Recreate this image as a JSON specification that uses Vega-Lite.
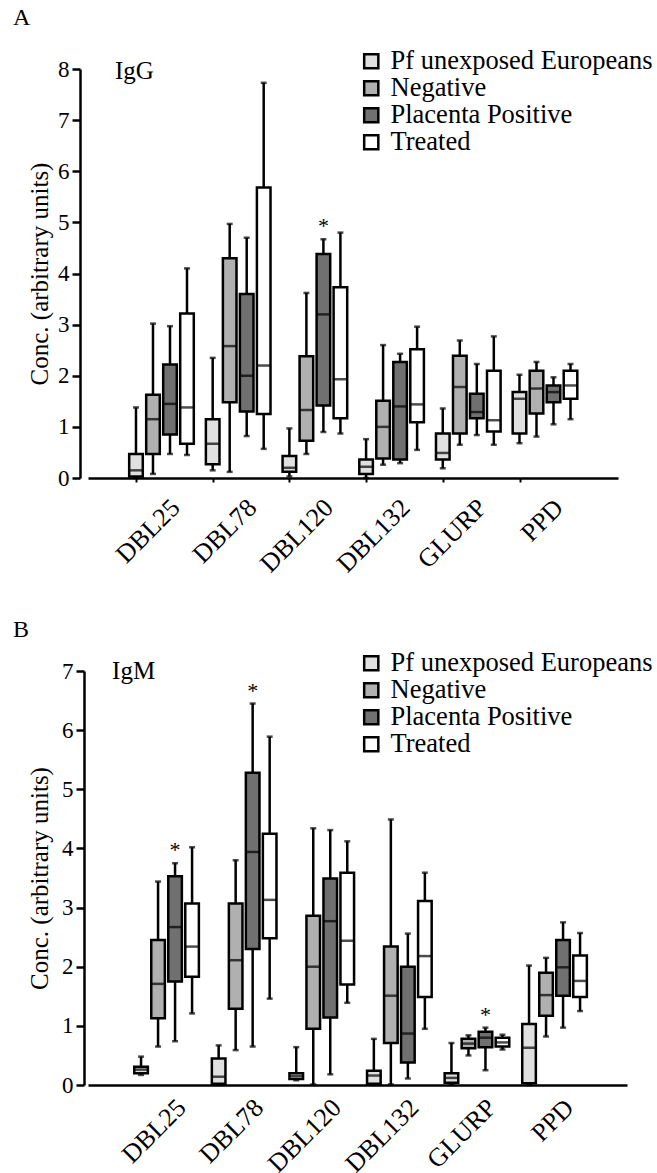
{
  "$schema": "https://vega.github.io/schema/vega-lite/v6.json",
  "padding": {"left": 13, "top": 6, "right": 0, "bottom": 0},
  "bounds": "flush",
  "spacing": 193,
  "resolve": {"scale": {"fill": "independent"}, "legend": {"fill": "independent"}},
  "config": {
    "view": {"stroke": null},
    "font": "Liberation Serif",
    "axis": {"domainColor": "black", "domainWidth": 2.5, "tickColor": "black", "tickWidth": 2.5, "labelColor": "black", "titleColor": "black", "labelFont": "Liberation Serif", "titleFont": "Liberation Serif", "titleFontWeight": "normal", "grid": false, "labelFontSize": 23, "titleFontSize": 25}
  },
  "datasets": {
    "igg": [
      {"antigen": "DBL25", "group": "Pf unexposed Europeans", "min": 0.0, "q1": 0.03, "median": 0.15, "q3": 0.47, "max": 1.38},
      {"antigen": "DBL25", "group": "Negative", "min": 0.08, "q1": 0.47, "median": 1.15, "q3": 1.63, "max": 3.02},
      {"antigen": "DBL25", "group": "Placenta Positive", "min": 0.47, "q1": 0.85, "median": 1.45, "q3": 2.22, "max": 2.97},
      {"antigen": "DBL25", "group": "Treated", "min": 0.45, "q1": 0.67, "median": 1.38, "q3": 3.22, "max": 4.1},
      {"antigen": "DBL78", "group": "Pf unexposed Europeans", "min": 0.15, "q1": 0.27, "median": 0.67, "q3": 1.15, "max": 2.35},
      {"antigen": "DBL78", "group": "Negative", "min": 0.12, "q1": 1.48, "median": 2.58, "q3": 4.3, "max": 4.97},
      {"antigen": "DBL78", "group": "Placenta Positive", "min": 0.82, "q1": 1.3, "median": 2.0, "q3": 3.6, "max": 4.7},
      {"antigen": "DBL78", "group": "Treated", "min": 0.57, "q1": 1.25, "median": 2.2, "q3": 5.68, "max": 7.73},
      {"antigen": "DBL120", "group": "Pf unexposed Europeans", "min": 0.03, "q1": 0.12, "median": 0.2, "q3": 0.43, "max": 0.97},
      {"antigen": "DBL120", "group": "Negative", "min": 0.47, "q1": 0.73, "median": 1.33, "q3": 2.38, "max": 3.62},
      {"antigen": "DBL120", "group": "Placenta Positive", "min": 0.9, "q1": 1.42, "median": 3.2, "q3": 4.38, "max": 4.67, "sig": "*"},
      {"antigen": "DBL120", "group": "Treated", "min": 0.87, "q1": 1.17, "median": 1.93, "q3": 3.73, "max": 4.8},
      {"antigen": "DBL132", "group": "Pf unexposed Europeans", "min": 0.0, "q1": 0.08, "median": 0.22, "q3": 0.36, "max": 0.76},
      {"antigen": "DBL132", "group": "Negative", "min": 0.26, "q1": 0.38, "median": 1.0, "q3": 1.51, "max": 2.6},
      {"antigen": "DBL132", "group": "Placenta Positive", "min": 0.29, "q1": 0.36, "median": 1.4, "q3": 2.27, "max": 2.43},
      {"antigen": "DBL132", "group": "Treated", "min": 0.55, "q1": 1.09, "median": 1.44, "q3": 2.52, "max": 2.96},
      {"antigen": "GLURP", "group": "Pf unexposed Europeans", "min": 0.19, "q1": 0.36, "median": 0.49, "q3": 0.87, "max": 1.36},
      {"antigen": "GLURP", "group": "Negative", "min": 0.65, "q1": 0.87, "median": 1.78, "q3": 2.39, "max": 2.69},
      {"antigen": "GLURP", "group": "Placenta Positive", "min": 0.84, "q1": 1.17, "median": 1.29, "q3": 1.65, "max": 2.23},
      {"antigen": "GLURP", "group": "Treated", "min": 0.65, "q1": 0.91, "median": 1.13, "q3": 2.1, "max": 2.77},
      {"antigen": "PPD", "group": "Pf unexposed Europeans", "min": 0.68, "q1": 0.87, "median": 1.55, "q3": 1.68, "max": 2.02},
      {"antigen": "PPD", "group": "Negative", "min": 0.81, "q1": 1.26, "median": 1.75, "q3": 2.1, "max": 2.27},
      {"antigen": "PPD", "group": "Placenta Positive", "min": 1.05, "q1": 1.48, "median": 1.68, "q3": 1.81, "max": 1.97},
      {"antigen": "PPD", "group": "Treated", "min": 1.15, "q1": 1.55, "median": 1.81, "q3": 2.1, "max": 2.23}
    ],
    "igm": [
      {"antigen": "DBL25", "group": "Pf unexposed Europeans", "min": 0.17, "q1": 0.2, "median": 0.26, "q3": 0.31, "max": 0.48},
      {"antigen": "DBL25", "group": "Negative", "min": 0.65, "q1": 1.13, "median": 1.71, "q3": 2.45, "max": 3.44},
      {"antigen": "DBL25", "group": "Placenta Positive", "min": 0.74, "q1": 1.75, "median": 2.67, "q3": 3.53, "max": 3.75, "sig": "*"},
      {"antigen": "DBL25", "group": "Treated", "min": 1.21, "q1": 1.83, "median": 2.34, "q3": 3.07, "max": 4.02},
      {"antigen": "DBL78", "group": "Pf unexposed Europeans", "min": 0.0, "q1": 0.02, "median": 0.14, "q3": 0.45, "max": 0.67},
      {"antigen": "DBL78", "group": "Negative", "min": 0.59, "q1": 1.29, "median": 2.11, "q3": 3.07, "max": 3.8},
      {"antigen": "DBL78", "group": "Placenta Positive", "min": 0.65, "q1": 2.3, "median": 3.94, "q3": 5.28, "max": 6.45, "sig": "*"},
      {"antigen": "DBL78", "group": "Treated", "min": 1.46, "q1": 2.48, "median": 3.13, "q3": 4.25, "max": 5.89},
      {"antigen": "DBL120", "group": "Pf unexposed Europeans", "min": 0.08, "q1": 0.1, "median": 0.15, "q3": 0.2, "max": 0.64},
      {"antigen": "DBL120", "group": "Negative", "min": 0.01, "q1": 0.95, "median": 2.0, "q3": 2.86, "max": 4.34},
      {"antigen": "DBL120", "group": "Placenta Positive", "min": 0.18, "q1": 1.14, "median": 2.77, "q3": 3.49, "max": 4.31},
      {"antigen": "DBL120", "group": "Treated", "min": 1.39, "q1": 1.7, "median": 2.44, "q3": 3.59, "max": 4.12},
      {"antigen": "DBL132", "group": "Pf unexposed Europeans", "min": 0.0, "q1": 0.02, "median": 0.16, "q3": 0.24, "max": 0.78},
      {"antigen": "DBL132", "group": "Negative", "min": 0.01, "q1": 0.71, "median": 1.51, "q3": 2.34, "max": 4.49},
      {"antigen": "DBL132", "group": "Placenta Positive", "min": 0.11, "q1": 0.38, "median": 0.87, "q3": 2.0, "max": 2.56},
      {"antigen": "DBL132", "group": "Treated", "min": 0.95, "q1": 1.49, "median": 2.18, "q3": 3.11, "max": 3.59},
      {"antigen": "GLURP", "group": "Pf unexposed Europeans", "min": 0.0, "q1": 0.04, "median": 0.12, "q3": 0.2, "max": 0.71},
      {"antigen": "GLURP", "group": "Negative", "min": 0.5, "q1": 0.62, "median": 0.7, "q3": 0.78, "max": 0.84},
      {"antigen": "GLURP", "group": "Placenta Positive", "min": 0.25, "q1": 0.64, "median": 0.8, "q3": 0.9, "max": 0.97, "sig": "*"},
      {"antigen": "GLURP", "group": "Treated", "min": 0.6, "q1": 0.65, "median": 0.72, "q3": 0.8, "max": 0.85},
      {"antigen": "PPD", "group": "Pf unexposed Europeans", "min": 0.0, "q1": 0.03, "median": 0.63, "q3": 1.03, "max": 2.02},
      {"antigen": "PPD", "group": "Negative", "min": 0.82, "q1": 1.17, "median": 1.52, "q3": 1.9, "max": 2.15},
      {"antigen": "PPD", "group": "Placenta Positive", "min": 0.97, "q1": 1.51, "median": 1.99, "q3": 2.45, "max": 2.75},
      {"antigen": "PPD", "group": "Treated", "min": 1.25, "q1": 1.49, "median": 1.76, "q3": 2.19, "max": 2.57}
    ]
  },
  "vconcat": [
    {
      "width": 530,
      "height": 409,
      "title": {"text": "A", "anchor": "start", "frame": "group", "dx": -75, "offset": -1, "baseline": "alphabetic", "fontSize": 24, "fontWeight": "normal", "font": "Liberation Serif", "color": "black"},
      "data": {"name": "igg"},
      "encoding": {
        "x": {"field": "antigen", "type": "nominal", "sort": ["DBL25", "DBL78", "DBL120", "DBL132", "GLURP", "PPD"], "scale": {"paddingInner": 0, "paddingOuter": 0.455, "align": 0.59}, "axis": {"title": null, "labelAngle": -45, "labelFontSize": 26, "tickSize": 4, "tickWidth": 2, "tickOffset": -31.5, "labelOffset": 30, "labelPadding": 12}},
        "xOffset": {"field": "group", "type": "nominal", "sort": ["Pf unexposed Europeans", "Negative", "Placenta Positive", "Treated"], "scale": {"paddingInner": 0.2, "paddingOuter": 0.355, "align": 0}}
      },
      "layer": [
        {"mark": {"type": "rule", "color": "black", "strokeWidth": 2.5}, "encoding": {"y": {"field": "min", "type": "quantitative", "title": "Conc. (arbitrary units)", "scale": {"domain": [0, 8], "nice": false}, "axis": {"values": [0, 0.5, 1, 1.5, 2, 2.5, 3, 3.5, 4, 4.5, 5, 5.5, 6, 6.5, 7, 7.5, 8], "labelExpr": "datum.value % 1 === 0 ? datum.label : ''", "labelOverlap": false, "tickSize": {"condition": {"test": "datum.value % 1 !== 0", "value": 4}, "value": 8}, "offset": 8, "labelPadding": 3, "titlePadding": 5}}, "y2": {"field": "max"}}},
        {"mark": {"type": "tick", "color": "black", "size": 6, "thickness": 2.5}, "encoding": {"y": {"field": "max", "type": "quantitative", "title": "Conc. (arbitrary units)"}}},
        {"mark": {"type": "tick", "color": "black", "size": 6, "thickness": 2.5}, "encoding": {"y": {"field": "min", "type": "quantitative", "title": "Conc. (arbitrary units)"}}},
        {"mark": {"type": "bar", "stroke": "black", "strokeWidth": 2.5}, "encoding": {"y": {"field": "q1", "type": "quantitative", "title": "Conc. (arbitrary units)"}, "y2": {"field": "q3"}, "fill": {"field": "group", "type": "nominal", "sort": ["Pf unexposed Europeans", "Negative", "Placenta Positive", "Treated"], "scale": {"domain": ["Pf unexposed Europeans", "Negative", "Placenta Positive", "Treated"], "range": ["#e0e0e0", "#b0b0b0", "#707070", "#ffffff"]}, "legend": {"orient": "none", "legendX": 270, "legendY": -21, "title": null, "symbolType": "square", "symbolSize": 200, "symbolStrokeColor": "black", "symbolStrokeWidth": 2.5, "labelFontSize": 26.5, "labelFont": "Liberation Serif", "labelColor": "black", "labelLimit": 0, "rowPadding": 0, "labelOffset": 6, "padding": 0}}}},
        {"mark": {"type": "tick", "color": "black", "size": 14, "thickness": 2.5}, "encoding": {"y": {"field": "median", "type": "quantitative", "title": "Conc. (arbitrary units)"}}},
        {"transform": [{"filter": "datum.sig === '*'"}], "mark": {"type": "text", "text": "*", "fontSize": 22, "dy": -6, "baseline": "alphabetic", "font": "Liberation Serif", "color": "black"}, "encoding": {"y": {"field": "max", "type": "quantitative", "title": "Conc. (arbitrary units)"}}},
        {"data": {"values": [{"label": "IgG"}]}, "mark": {"type": "text", "align": "left", "baseline": "alphabetic", "fontSize": 25, "font": "Liberation Serif", "dx": -21, "color": "black"}, "encoding": {"x": {"datum": "DBL25"}, "xOffset": {"datum": "Pf unexposed Europeans"}, "y": {"datum": 7.8, "title": "Conc. (arbitrary units)"}, "text": {"field": "label"}}}
      ]
    },
    {
      "width": 539,
      "height": 414,
      "title": {"text": "B", "anchor": "start", "frame": "group", "dx": -75, "offset": -11, "baseline": "alphabetic", "fontSize": 24, "fontWeight": "normal", "font": "Liberation Serif", "color": "black"},
      "data": {"name": "igm"},
      "encoding": {
        "x": {"field": "antigen", "type": "nominal", "sort": ["DBL25", "DBL78", "DBL120", "DBL132", "GLURP", "PPD"], "scale": {"paddingInner": 0, "paddingOuter": 0.473, "align": 0.63}, "axis": {"title": null, "labelAngle": -45, "labelFontSize": 26, "ticks": false, "tickOffset": -32, "labelOffset": 31, "labelPadding": 9}},
        "xOffset": {"field": "group", "type": "nominal", "sort": ["Pf unexposed Europeans", "Negative", "Placenta Positive", "Treated"], "scale": {"paddingInner": 0.2, "paddingOuter": 0.38, "align": 0}}
      },
      "layer": [
        {"mark": {"type": "rule", "color": "black", "strokeWidth": 2.5}, "encoding": {"y": {"field": "min", "type": "quantitative", "title": "Conc. (arbitrary units)", "scale": {"domain": [0, 7], "nice": false}, "axis": {"values": [0, 0.5, 1, 1.5, 2, 2.5, 3, 3.5, 4, 4.5, 5, 5.5, 6, 6.5, 7], "format": "d", "labelExpr": "datum.value % 1 === 0 ? datum.label : ''", "labelOverlap": false, "tickSize": {"condition": {"test": "datum.value % 1 !== 0", "value": 4}, "value": 8}, "offset": 4, "labelPadding": 3, "titlePadding": 9}}, "y2": {"field": "max"}}},
        {"mark": {"type": "tick", "color": "black", "size": 6, "thickness": 2.5}, "encoding": {"y": {"field": "max", "type": "quantitative", "title": "Conc. (arbitrary units)"}}},
        {"mark": {"type": "tick", "color": "black", "size": 6, "thickness": 2.5}, "encoding": {"y": {"field": "min", "type": "quantitative", "title": "Conc. (arbitrary units)"}}},
        {"mark": {"type": "bar", "stroke": "black", "strokeWidth": 2.5}, "encoding": {"y": {"field": "q1", "type": "quantitative", "title": "Conc. (arbitrary units)"}, "y2": {"field": "q3"}, "fill": {"field": "group", "type": "nominal", "sort": ["Pf unexposed Europeans", "Negative", "Placenta Positive", "Treated"], "scale": {"domain": ["Pf unexposed Europeans", "Negative", "Placenta Positive", "Treated"], "range": ["#e0e0e0", "#b0b0b0", "#707070", "#ffffff"]}, "legend": {"orient": "none", "legendX": 270, "legendY": -21, "title": null, "symbolType": "square", "symbolSize": 200, "symbolStrokeColor": "black", "symbolStrokeWidth": 2.5, "labelFontSize": 26.5, "labelFont": "Liberation Serif", "labelColor": "black", "labelLimit": 0, "rowPadding": 0, "labelOffset": 6, "padding": 0}}}},
        {"mark": {"type": "tick", "color": "black", "size": 14, "thickness": 2.5}, "encoding": {"y": {"field": "median", "type": "quantitative", "title": "Conc. (arbitrary units)"}}},
        {"transform": [{"filter": "datum.sig === '*'"}], "mark": {"type": "text", "text": "*", "fontSize": 22, "dy": -6, "baseline": "alphabetic", "font": "Liberation Serif", "color": "black"}, "encoding": {"y": {"field": "max", "type": "quantitative", "title": "Conc. (arbitrary units)"}}},
        {"data": {"values": [{"label": "IgM"}]}, "mark": {"type": "text", "align": "left", "baseline": "alphabetic", "fontSize": 25, "font": "Liberation Serif", "dx": -29, "color": "black"}, "encoding": {"x": {"datum": "DBL25"}, "xOffset": {"datum": "Pf unexposed Europeans"}, "y": {"datum": 6.86, "title": "Conc. (arbitrary units)"}, "text": {"field": "label"}}}
      ]
    }
  ]
}
